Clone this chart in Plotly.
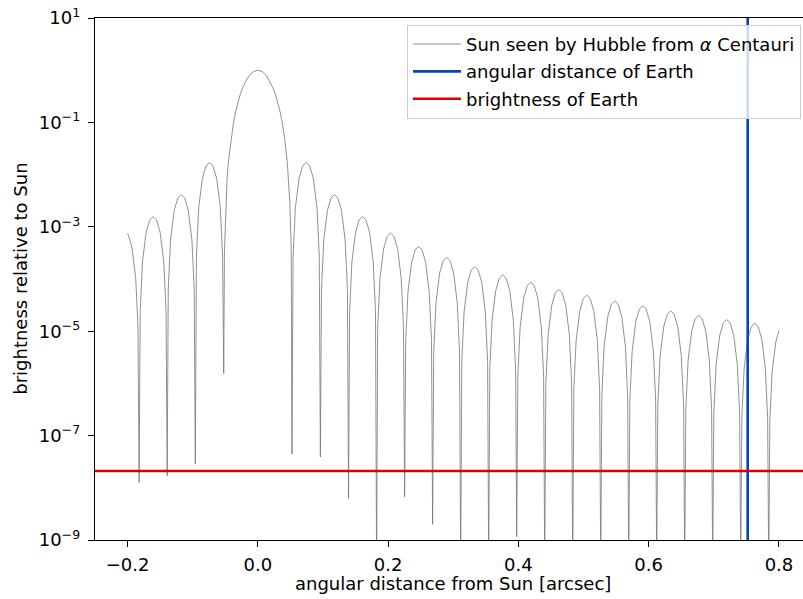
import plotly.graph_objects as go

# ---- data ----
left_x = [-0.2000, -0.1986, -0.1931, -0.1875, -0.1840, -0.1823,
          -0.1806, -0.1771, -0.1715, -0.1659, -0.1608, -0.1556, -0.1500, -0.1444, -0.1409, -0.1392,
          -0.1375, -0.1340, -0.1284, -0.1228, -0.1176, -0.1124, -0.1068, -0.1012, -0.0977, -0.0960,
          -0.0943, -0.0908, -0.0851, -0.0794, -0.0742, -0.0690, -0.0633, -0.0576, -0.0541, -0.0524]
left_y = [7.4e-4, 6.8e-4, 3.9e-4, 1.05e-4, 1.2e-5, 1.27e-8,
          2.46e-5, 2.13e-4, 7.85e-4, 1.36e-3, 1.57e-3, 1.36e-3, 7.85e-4, 2.13e-4, 2.46e-5, 1.7e-8,
          6.48e-5, 5.6e-4, 2.07e-3, 3.57e-3, 4.13e-3, 3.57e-3, 2.07e-3, 5.6e-4, 6.48e-5, 2.9e-8,
          2.68e-4, 2.32e-3, 8.55e-3, 1.48e-2, 1.71e-2, 1.48e-2, 8.55e-3, 2.32e-3, 2.68e-4, 1.55e-6]

center_x = [-0.0513, -0.0492, -0.0472, -0.0451, -0.0410, -0.0376, -0.0342, -0.0308, -0.0274,
            -0.0239, -0.0205, -0.0137, -0.0068, 0.0, 0.0068, 0.0137, 0.0205, 0.0239, 0.0274,
            0.0308, 0.0342, 0.0376, 0.0410, 0.0451, 0.0472, 0.0492, 0.0513]
center_y = [3.2e-4, 2.8e-3, 8.4e-3, 1.79e-2, 5.11e-2, 9.6e-2, 0.158, 0.237, 0.333,
            0.439, 0.553, 0.775, 0.939, 1.0, 0.939, 0.775, 0.553, 0.439, 0.333,
            0.237, 0.158, 0.096, 0.0511, 0.0179, 8.4e-3, 2.8e-3, 3.2e-4]

right_x = [0.0524,
           0.0541, 0.0576, 0.0633, 0.0690, 0.0742, 0.0794, 0.0851, 0.0908, 0.0943, 0.0960,
           0.0977, 0.1012, 0.1068, 0.1124, 0.1176, 0.1228, 0.1284, 0.1340, 0.1375, 0.1392,
           0.1409, 0.1444, 0.1500, 0.1556, 0.1608, 0.1659, 0.1715, 0.1771, 0.1806, 0.1823,
           0.1840, 0.1875, 0.1931, 0.1986, 0.2038, 0.2090, 0.2146, 0.2201, 0.2236, 0.2253,
           0.2270, 0.2305, 0.2361, 0.2416, 0.2468, 0.2520, 0.2576, 0.2631, 0.2666, 0.2683,
           0.2700, 0.2735, 0.2791, 0.2846, 0.2898, 0.2950, 0.3006, 0.3061, 0.3096, 0.3114,
           0.3131, 0.3166, 0.3222, 0.3277, 0.3329, 0.3381, 0.3437, 0.3492, 0.3527, 0.3544,
           0.3561, 0.3596, 0.3652, 0.3707, 0.3759, 0.3811, 0.3867, 0.3922, 0.3957, 0.3974,
           0.3991, 0.4026, 0.4082, 0.4137, 0.4189, 0.4241, 0.4297, 0.4352, 0.4387, 0.4404,
           0.4421, 0.4456, 0.4512, 0.4567, 0.4619, 0.4671, 0.4727, 0.4782, 0.4817, 0.4834,
           0.4851, 0.4886, 0.4942, 0.4997, 0.5049, 0.5101, 0.5157, 0.5212, 0.5247, 0.5264,
           0.5281, 0.5316, 0.5372, 0.5427, 0.5479, 0.5531, 0.5587, 0.5642, 0.5677, 0.5694,
           0.5711, 0.5746, 0.5802, 0.5857, 0.5909, 0.5961, 0.6017, 0.6072, 0.6107, 0.6123,
           0.6140, 0.6175, 0.6231, 0.6286, 0.6338, 0.6390, 0.6446, 0.6501, 0.6536, 0.6553,
           0.6570, 0.6605, 0.6661, 0.6716, 0.6768, 0.6820, 0.6876, 0.6931, 0.6966, 0.6983,
           0.7000, 0.7035, 0.7091, 0.7146, 0.7198, 0.7250, 0.7306, 0.7361, 0.7396, 0.7413,
           0.7430, 0.7465, 0.7521, 0.7576, 0.7628, 0.7680, 0.7736, 0.7791, 0.7826, 0.7843,
           0.7860, 0.7895, 0.7951, 0.8000]
right_y = [4.4e-8,
           2.68e-4, 2.32e-3, 8.55e-3, 1.48e-2, 1.71e-2, 1.48e-2, 8.55e-3, 2.32e-3, 2.68e-4, 3.9e-8,
           6.48e-5, 5.6e-4, 2.07e-3, 3.57e-3, 4.13e-3, 3.57e-3, 2.07e-3, 5.6e-4, 6.48e-5, 6.3e-9,
           2.46e-5, 2.13e-4, 7.85e-4, 1.36e-3, 1.57e-3, 1.36e-3, 7.85e-4, 2.13e-4, 2.46e-5, 3e-10,
           1.19e-5, 1.03e-4, 3.8e-4, 6.57e-4, 7.6e-4, 6.57e-4, 3.8e-4, 1.03e-4, 1.19e-5, 6.7e-9,
           6.59e-6, 5.69e-5, 2.1e-4, 3.63e-4, 4.2e-4, 3.63e-4, 2.1e-4, 5.69e-5, 6.59e-6, 2.0e-9,
           4.08e-6, 3.52e-5, 1.3e-4, 2.25e-4, 2.6e-4, 2.25e-4, 1.3e-4, 3.52e-5, 4.08e-6, 3e-10,
           2.72e-6, 2.34e-5, 8.65e-5, 1.5e-4, 1.73e-4, 1.5e-4, 8.65e-5, 2.34e-5, 2.72e-6, 3e-10,
           1.88e-6, 1.63e-5, 6.0e-5, 1.04e-4, 1.2e-4, 1.04e-4, 6.0e-5, 1.63e-5, 1.88e-6, 1.16e-9,
           1.37e-6, 1.18e-5, 4.35e-5, 7.53e-5, 8.7e-5, 7.53e-5, 4.35e-5, 1.18e-5, 1.37e-6, 3e-10,
           9.9e-7, 8.54e-6, 3.15e-5, 5.45e-5, 6.3e-5, 5.45e-5, 3.15e-5, 8.54e-6, 9.9e-7, 3e-10,
           7.7e-7, 6.64e-6, 2.45e-5, 4.24e-5, 4.9e-5, 4.24e-5, 2.45e-5, 6.64e-6, 7.7e-7, 3e-10,
           5.97e-7, 5.15e-6, 1.9e-5, 3.29e-5, 3.8e-5, 3.29e-5, 1.9e-5, 5.15e-6, 5.97e-7, 3e-10,
           4.79e-7, 4.13e-6, 1.53e-5, 2.64e-5, 3.05e-5, 2.64e-5, 1.53e-5, 4.13e-6, 4.79e-7, 3e-10,
           3.85e-7, 3.32e-6, 1.23e-5, 2.12e-5, 2.45e-5, 2.12e-5, 1.23e-5, 3.32e-6, 3.85e-7, 3e-10,
           3.17e-7, 2.74e-6, 1.01e-5, 1.75e-5, 2.02e-5, 1.75e-5, 1.01e-5, 2.74e-6, 3.17e-7, 3e-10,
           2.62e-7, 2.26e-6, 8.35e-6, 1.44e-5, 1.67e-5, 1.44e-5, 8.35e-6, 2.26e-6, 2.62e-7, 3e-10,
           2.23e-7, 1.92e-6, 7.1e-6, 1.23e-5, 1.42e-5, 1.23e-5, 7.1e-6, 1.92e-6, 2.23e-7, 3e-10,
           1.94e-7, 1.67e-6, 6.2e-6, 1.04e-5]

earth_angle = 0.752        # arcsec
earth_brightness = 2.1e-8  # relative to Sun

x_ticks = [-0.2, 0.0, 0.2, 0.4, 0.6, 0.8]
y_tick_vals = [1e1, 1e-1, 1e-3, 1e-5, 1e-7, 1e-9]
y_tick_text = ["10<sup>1</sup>", "10<sup>\u22121</sup>", "10<sup>\u22123</sup>",
               "10<sup>\u22125</sup>", "10<sup>\u22127</sup>", "10<sup>\u22129</sup>"]

x_title = "angular distance from Sun [arcsec]"
y_title = "brightness relative to Sun"

curve_x = left_x + center_x + right_x
curve_y = left_y + center_y + right_y

FONT = "DejaVu Sans, Verdana, sans-serif"
FS = 18

fig = go.Figure()
fig.add_trace(go.Scatter(x=curve_x, y=curve_y, mode="lines", legendgroup="a",
                         line=dict(color="#757575", width=0.8),
                         name="Sun seen by Hubble from <i>\u03b1</i> Centauri"))
fig.add_trace(go.Scatter(x=[earth_angle, earth_angle], y=[1e-12, 1e3], mode="lines", legendgroup="b",
                         line=dict(color="#0047b3", width=2.6),
                         name="angular distance of Earth"))
fig.add_trace(go.Scatter(x=[-1.0, 2.0], y=[earth_brightness, earth_brightness], mode="lines",
                         legendgroup="c",
                         line=dict(color="#dc0000", width=2.6),
                         name="brightness of Earth"))

fig.update_layout(
    width=803, height=599,
    margin=dict(l=95, r=0, t=17.5, b=59, autoexpand=False),
    paper_bgcolor="white", plot_bgcolor="white",
    font=dict(family=FONT, size=FS, color="black"),
    showlegend=True,
    legend=dict(x=0.9972, xanchor="right", y=0.987, yanchor="top",
                traceorder="grouped", tracegroupgap=1,
                itemwidth=48,
                bgcolor="rgba(255,255,255,0.8)", bordercolor="#cccccc", borderwidth=1,
                font=dict(family=FONT, size=FS, color="black")),
    annotations=[
        dict(text=x_title, xref="paper", yref="paper", x=0.5057, y=-0.0842,
             xanchor="center", yanchor="middle", showarrow=False,
             font=dict(family=FONT, size=FS, color="black")),
        dict(text=y_title, xref="paper", yref="paper", x=-0.1052, y=0.4995,
             xanchor="center", yanchor="middle", showarrow=False, textangle=-90,
             font=dict(family=FONT, size=FS, color="black")),
    ],
)
fig.update_xaxes(
    range=[-0.25, 0.8369], showgrid=False, zeroline=False, automargin=False,
    showline=True, linecolor="black", linewidth=1.4, mirror=True,
    ticks="outside", ticklen=6, tickwidth=1.4, tickcolor="black",
    tickvals=x_ticks, tickformat=".1f", ticklabelstandoff=2, ticklabeloverflow="allow",
)
fig.update_yaxes(
    type="log", range=[-9, 1], showgrid=False, zeroline=False, automargin=False,
    showline=True, linecolor="black", linewidth=1.4, mirror=False,
    ticks="outside", ticklen=6, tickwidth=1.4, tickcolor="black",
    tickvals=y_tick_vals, ticktext=y_tick_text, ticklabelstandoff=4, ticklabeloverflow="allow",
)

# remove the default 8 px body margin so the 803x599 figure fills the window exactly
fig.write_html("out.html", default_width="803px", default_height="599px",
               config={"displayModeBar": False},
               post_script="document.body.style.margin='0px';")
